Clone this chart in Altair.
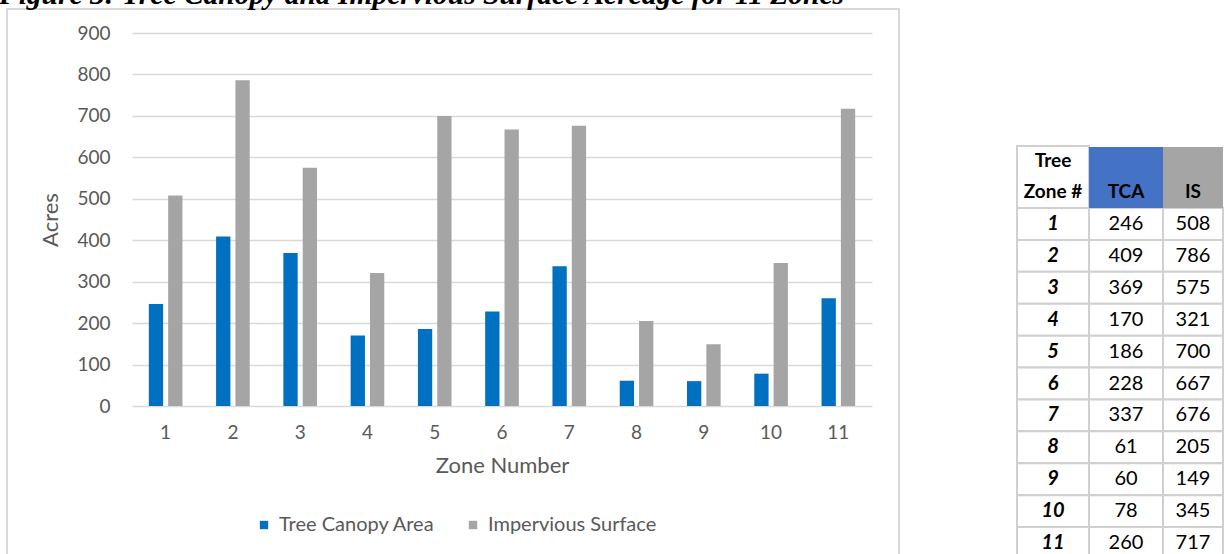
import altair as alt
import pandas as pd

# ---- data -------------------------------------------------------------
zones = [1, 2, 3, 4, 5, 6, 7, 8, 9, 10, 11]
tree_canopy = [246, 409, 369, 170, 186, 228, 337, 61, 60, 78, 260]
impervious = [508, 786, 575, 321, 700, 667, 676, 205, 149, 345, 717]
series_names = ["Tree Canopy Area", "Impervious Surface"]
series_colors = ["#0070C0", "#A5A5A5"]
y_ticks = [0, 100, 200, 300, 400, 500, 600, 700, 800, 900]
figure_title = "Figure 3: Tree Canopy and Impervious Surface Acreage for 11 Zones"
table_headers = ["Tree", "Zone #", "TCA", "IS"]

# ---- layout (page pixels) --------------------------------------------
PAGE_W, PAGE_H = 1225, 554
PLOT_L, PLOT_T, PLOT_R, PLOT_B = 132, 33, 872, 406
GRID = "#d9d9d9"
TEXT_GRAY = "#595959"
FONT = "Lato"


def rx(x):
    return x - PLOT_L


def ry(y):
    return y - PLOT_T


bar_df = pd.DataFrame(
    {
        "Zone": zones * 2,
        "Series": [series_names[0]] * len(zones) + [series_names[1]] * len(zones),
        "Acres": tree_canopy + impervious,
    }
)
table_df = pd.DataFrame({"Zone": zones, "TCA": tree_canopy, "IS": impervious})
one = pd.DataFrame({"k": [0]})

# ---- chart frame and figure caption ----------------------------------
frame = alt.Chart(one).mark_rect(fillOpacity=0, stroke=GRID, strokeWidth=2).encode(
    x=alt.value(rx(7)), x2=alt.value(rx(899)), y=alt.value(ry(9)), y2=alt.value(ry(620))
)

caption = alt.Chart(one).mark_text(
    text=figure_title,
    font="Liberation Serif",
    fontStyle="italic",
    fontWeight="bold",
    fontSize=29.5,
    align="left",
    baseline="alphabetic",
    color="black",
).encode(x=alt.value(rx(-1)), y=alt.value(ry(4)))

# ---- grouped bars -----------------------------------------------------
bars = alt.Chart(bar_df).mark_bar().encode(
    x=alt.X(
        "Zone:O",
        scale=alt.Scale(paddingInner=0.5, paddingOuter=0.25),
        axis=alt.Axis(
            title="Zone Number",
            labelAngle=0,
            labelPadding=17,
            labelFontSize=19,
            labelColor=TEXT_GRAY,
            titleFontSize=22,
            titleFontWeight="normal",
            titleColor=TEXT_GRAY,
            titlePadding=13,
            ticks=False,
            domain=False,
            grid=False,
        ),
    ),
    xOffset=alt.XOffset(
        "Series:N", sort=series_names, scale=alt.Scale(paddingInner=0.26, paddingOuter=0)
    ),
    y=alt.Y(
        "Acres:Q",
        scale=alt.Scale(domain=[0, 900], nice=False),
        axis=alt.Axis(
            title="Acres",
            values=y_ticks,
            labelPadding=22,
            labelFontSize=19,
            labelColor=TEXT_GRAY,
            titleFontSize=22,
            titleFontWeight="normal",
            titleColor=TEXT_GRAY,
            titlePadding=14,
            ticks=False,
            domain=False,
            grid=True,
            gridColor=GRID,
            gridWidth=1.6,
        ),
    ),
    color=alt.Color(
        "Series:N",
        sort=series_names,
        scale=alt.Scale(domain=series_names, range=series_colors),
        legend=alt.Legend(
            title=None,
            orient="none",
            direction="horizontal",
            legendX=rx(254),
            legendY=ry(515),
            symbolType="square",
            symbolSize=70,
            symbolStrokeWidth=0,
            labelFontSize=20,
            labelColor=TEXT_GRAY,
            labelLimit=400,
            labelOffset=5,
            columnPadding=28,
            padding=0,
        ),
    ),
)

# ---- data table on the right -----------------------------------------
COL_EDGES = [1017, 1089, 1163, 1223]
COL_MID = [(COL_EDGES[i] + COL_EDGES[i + 1]) / 2 for i in range(3)]
HEAD_T, ROWS_T, ROWS_B = 146, 208, 559
CELL_LINE = "#d0d0d0"

row_y = alt.Y(
    "Zone:O",
    scale=alt.Scale(range=[ry(ROWS_T), ry(ROWS_B)], paddingInner=0, paddingOuter=0),
    axis=None,
)

table_layers = []
for i in range(3):
    table_layers.append(
        alt.Chart(table_df)
        .mark_rect(fill="white", stroke=CELL_LINE, strokeWidth=2)
        .encode(x=alt.value(rx(COL_EDGES[i])), x2=alt.value(rx(COL_EDGES[i + 1])), y=row_y)
    )

head_cells = [
    alt.Chart(one).mark_rect(fill="white", stroke=CELL_LINE, strokeWidth=2).encode(
        x=alt.value(rx(COL_EDGES[0])), x2=alt.value(rx(COL_EDGES[1])),
        y=alt.value(ry(HEAD_T)), y2=alt.value(ry(ROWS_T)),
    ),
    alt.Chart(one).mark_rect(fill="#4472C4").encode(
        x=alt.value(rx(COL_EDGES[1])), x2=alt.value(rx(COL_EDGES[2])),
        y=alt.value(ry(HEAD_T + 1)), y2=alt.value(ry(ROWS_T)),
    ),
    alt.Chart(one).mark_rect(fill="#A5A5A5").encode(
        x=alt.value(rx(COL_EDGES[2])), x2=alt.value(rx(COL_EDGES[3])),
        y=alt.value(ry(HEAD_T + 1)), y2=alt.value(ry(ROWS_T)),
    ),
]

head_text_style = dict(fontSize=19, fontWeight="bold", color="black", align="center", baseline="middle")
head_texts = [
    alt.Chart(one).mark_text(text=table_headers[0], **head_text_style).encode(
        x=alt.value(rx(COL_MID[0])), y=alt.value(ry(161))),
    alt.Chart(one).mark_text(text=table_headers[1], **head_text_style).encode(
        x=alt.value(rx(COL_MID[0])), y=alt.value(ry(192))),
    alt.Chart(one).mark_text(text=table_headers[2], **head_text_style).encode(
        x=alt.value(rx(COL_MID[1])), y=alt.value(ry(192))),
    alt.Chart(one).mark_text(text=table_headers[3], **head_text_style).encode(
        x=alt.value(rx(COL_MID[2])), y=alt.value(ry(192))),
]

cell_text = dict(fontSize=20, color="black", align="center", baseline="middle")
zone_labels = alt.Chart(table_df).mark_text(fontWeight="bold", fontStyle="italic", **cell_text).encode(
    x=alt.value(rx(COL_MID[0])), y=row_y, text=alt.Text("Zone:O")
)
tca_labels = alt.Chart(table_df).mark_text(**cell_text).encode(
    x=alt.value(rx(COL_MID[1])), y=row_y, text=alt.Text("TCA:Q")
)
is_labels = alt.Chart(table_df).mark_text(**cell_text).encode(
    x=alt.value(rx(COL_MID[2])), y=row_y, text=alt.Text("IS:Q")
)

chart = (
    alt.layer(
        frame, caption, bars, *table_layers, *head_cells, *head_texts,
        zone_labels, tca_labels, is_labels,
    )
    .resolve_scale(y="independent")
    .properties(
        width=PLOT_R - PLOT_L,
        height=PLOT_B - PLOT_T,
        autosize=alt.AutoSizeParams(type="none"),
        padding={"left": PLOT_L, "top": PLOT_T, "right": PAGE_W - PLOT_R, "bottom": PAGE_H - PLOT_B},
        background="white",
    )
    .configure(font=FONT)
    .configure_view(strokeWidth=0)
)

chart.save("out.html", embed_options={"renderer": "svg", "actions": False})
